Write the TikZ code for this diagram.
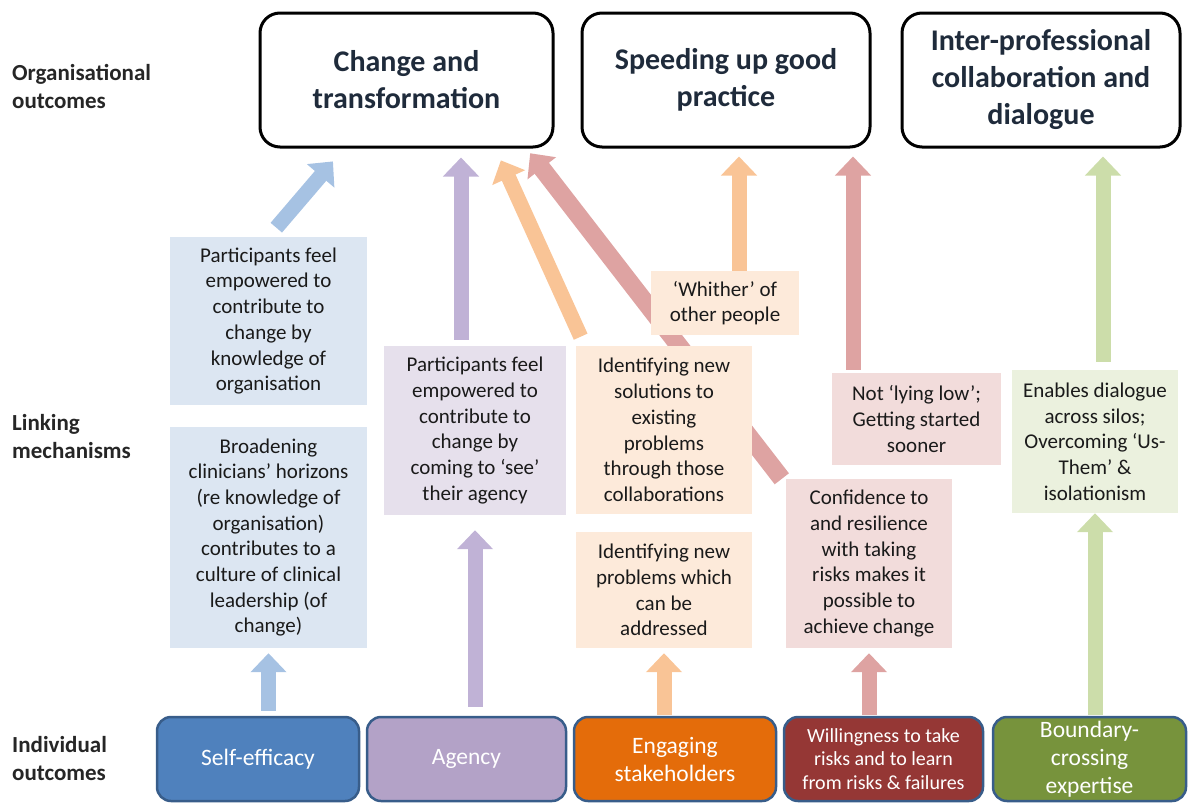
\documentclass[tikz,border=0pt]{standalone}
\usepackage{fontspec}
\setmainfont{Carlito}
\usetikzlibrary{positioning,arrows.meta,backgrounds}
\usepackage{xcolor}
\definecolor{titletext}{HTML}{1F2B3B}
\definecolor{labeltext}{HTML}{262626}
\definecolor{bodytext}{HTML}{1A1A1A}
\definecolor{boxedge}{HTML}{385D8A}
\definecolor{blueout}{HTML}{4F81BD}
\definecolor{lilacout}{HTML}{B3A2C7}
\definecolor{orangeout}{HTML}{E46C0A}
\definecolor{redout}{HTML}{953735}
\definecolor{greenout}{HTML}{77933C}
\definecolor{bluebg}{HTML}{DCE6F2}
\definecolor{lilacbg}{HTML}{E6E0EC}
\definecolor{orangebg}{HTML}{FDEADA}
\definecolor{redbg}{HTML}{F2DCDB}
\definecolor{greenbg}{HTML}{EBF1DE}
\definecolor{bluearrow}{HTML}{A6C2E3}
\definecolor{lilacarrow}{HTML}{C0B2D6}
\definecolor{orangearrow}{HTML}{F9C496}
\definecolor{redarrow}{HTML}{DEA3A2}
\definecolor{greenarrow}{HTML}{CCDDAA}

\tikzset{
  level/.style={text=labeltext,font=\fontsize{23}{28}\selectfont\bfseries,align=left,anchor=west,inner sep=0pt},
  goal/.style={draw=black,line width=3pt,rounded corners=20pt,fill=white,text=titletext,
    font=\fontsize{30}{37}\selectfont\bfseries,align=center,minimum height=134pt,inner sep=0pt},
  mech/.style={text=bodytext,font=\fontsize{21}{25.7}\selectfont,align=center,inner sep=0pt},
  outcome/.style={draw=boxedge,line width=2.5pt,rounded corners=14pt,text=white,align=center,
    minimum height=84pt,inner sep=0pt,font=\fontsize{23.5}{28}\selectfont},
  lift/.style={line width=15pt,-{Triangle[width=35pt,length=19pt]}},
}

\begin{document}
\begin{tikzpicture}[x=1pt,y=-1pt]
    \useasboundingbox (0,0) rectangle (1188,803);

    % Row labels
    \node[level] (lorg) at (12,86) {Organisational\\outcomes};
    \node[level] (llink) at (12,436.5) {Linking\\mechanisms};
    \node[level] (lind) at (12,759) {Individual\\outcomes};

    % Organisational outcomes
    \node[goal,minimum width=293pt] (T1) at (406.5,80) {Change and\\transformation};
    \node[goal,minimum width=288pt] (T2) at (726,80) {Speeding up good\\practice};
    \node[goal,minimum width=278pt] (T3) at (1041,80) {Inter-professional\\collaboration and\\dialogue};

    % Linking mechanisms
    \node[mech,fill=bluebg,minimum width=197pt,minimum height=168pt] (A1) at (268.5,321)
      {Participants feel\\empowered to\\contribute to\\change by\\knowledge of\\organisation};
    \node[mech,fill=bluebg,minimum width=197pt,minimum height=221pt] (A2) at (268.5,537.5)
      {Broadening\\clinicians’ horizons\\(re knowledge of\\organisation)\\contributes to a\\culture of clinical\\leadership (of\\change)};
    \node[mech,fill=lilacbg,minimum width=182pt,minimum height=169pt] (B) at (475,430.5)
      {Participants feel\\empowered to\\contribute to\\change by\\coming to ‘see’\\their agency};
    \node[mech,fill=orangebg,minimum width=148pt,minimum height=64pt] (C1) at (725,303)
      {‘Whither’ of\\other people};
    \node[mech,fill=orangebg,minimum width=176pt,minimum height=168pt] (C2) at (664,430)
      {Identifying new\\solutions to\\existing\\problems\\through those\\collaborations};
    \node[mech,fill=orangebg,minimum width=176pt,minimum height=116pt] (C3) at (664,590)
      {Identifying new\\problems which\\can be\\addressed};
    \node[mech,fill=redbg,minimum width=169pt,minimum height=92pt] (D1) at (916.5,419)
      {Not ‘lying low’;\\Getting started\\sooner};
    \node[mech,fill=redbg,minimum width=166pt,minimum height=169pt] (D2) at (869,563.5)
      {Confidence to\\and resilience\\with taking\\risks makes it\\possible to\\achieve change};
    \node[mech,fill=greenbg,minimum width=166pt,minimum height=143pt] (E) at (1095,441.5)
      {Enables dialogue\\across silos;\\Overcoming ‘Us-\\Them’ \&\\isolationism};

    % Individual outcomes
    \node[outcome,fill=blueout,minimum width=202pt] (S1) at (258,759) {Self-efficacy};
    \node[outcome,fill=lilacout,minimum width=199pt] (S2) at (466.5,759) {Agency};
    \node[outcome,fill=orangeout,minimum width=202pt] (S3) at (675,759) {Engaging\\stakeholders};
    \node[outcome,fill=redout,minimum width=199pt,font=\fontsize{20}{23.3}\selectfont] (S4) at (883.5,759)
      {Willingness to take\\risks and to learn\\from risks \& failures};
    \node[outcome,fill=greenout,minimum width=193pt] (S5) at (1089.5,759) {Boundary-\\crossing\\expertise};

    % Arrow feet
    \coordinate (bfoot) at ([xshift=-14pt]B.north);
    \coordinate (wfoot) at ([xshift=14pt]C1.north);
    \coordinate (lfoot) at ([xshift=-63.5pt]D1.north);
    \coordinate (dfoot) at ([xshift=8pt]E.north);

    % Arrows, behind the boxes
    \begin{scope}[on background layer]
      \draw[lift,bluearrow,shorten <=5pt,shorten >=5pt] (S1.north -| A2.south) -- (A2.south);
      \draw[lift,bluearrow,shorten <=12pt,shorten >=17pt] (A1.north) -- ([xshift=-62.5pt]T1.south);
      \draw[lift,lilacarrow,shorten <=9pt,shorten >=15pt] (S2.north -| B.south) -- (B.south);
      \draw[lift,lilacarrow,shorten <=6pt,shorten >=9pt] (bfoot) -- (bfoot |- T1.south);
      \draw[lift,orangearrow,shorten <=10pt,shorten >=13pt] ([xshift=9pt]C2.north west) -- ([xshift=89pt]T1.south);
      \draw[lift,orangearrow,shorten <=1pt,shorten >=5pt] (S3.north -| C3.south) -- (C3.south);
      \draw[lift,orangearrow,shorten >=8pt] (wfoot) -- (wfoot |- T2.south);
      \draw[lift,redarrow,line width=18pt,shorten >=6pt] ([xshift=-4pt]D2.north west) -- ([xshift=120pt]T1.south);
      \draw[lift,redarrow,shorten <=1pt,shorten >=5pt] (S4.north -| D2.south) -- (D2.south);
      \draw[lift,redarrow,shorten <=3pt,shorten >=8pt] (lfoot) -- (lfoot |- T2.south);
      \draw[lift,greenarrow,shorten <=8pt,shorten >=8pt] (dfoot) -- (dfoot |- T3.south);
    \end{scope}
    \draw[lift,greenarrow,shorten <=1pt] (S5.north -| E.south) -- (E.south);
\end{tikzpicture}
\end{document}
